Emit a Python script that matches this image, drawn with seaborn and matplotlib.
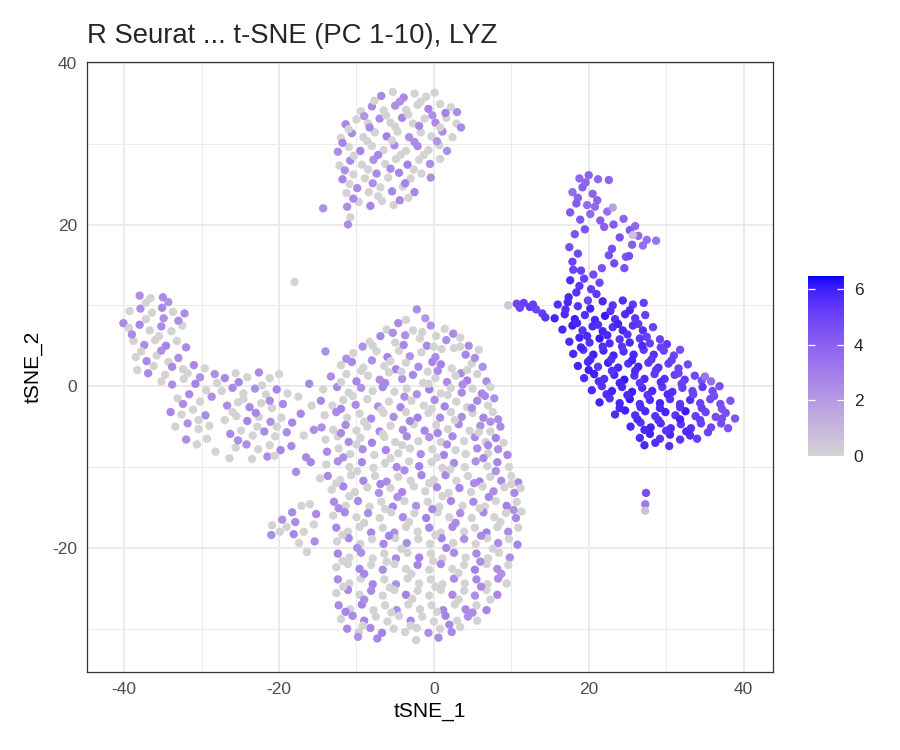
import numpy as np
import pandas as pd
import seaborn as sns
import matplotlib.pyplot as plt
from matplotlib.colors import ListedColormap, Normalize
from matplotlib.cm import ScalarMappable

# (tSNE_1, tSNE_2, LYZ), cluster by cluster
cluster_top = [
    (-6.8,35.9,2.6), (-5.3,36.4,0), (-3.9,35.7,2.7), (-2.5,36.2,0), (-1.0,35.8,0), (0.1,36.3,0),
    (-9.4,34.0,0), (-8.0,34.6,2.6), (-6.5,34.1,0), (-5.0,34.7,2.4), (-3.6,34.2,0), (-2.1,34.8,0), (-0.7,34.3,2.8), (0.8,34.9,0), (2.2,34.5,0), (3.0,33.9,2.5),
    (-11.4,32.4,2.7), (-10.0,33.0,0), (-8.5,32.5,0), (-7.0,33.1,2.5), (-5.6,32.6,0), (-4.1,33.2,2.8), (-2.7,32.5,0), (-1.2,33.1,0), (0.2,32.6,2.6), (1.6,33.2,0), (2.9,32.5,0), (3.5,32.0,2.7),
    (-12.0,30.7,0), (-10.6,31.3,2.6), (-9.1,30.8,0), (-7.6,31.4,0), (-6.1,30.9,2.9), (-4.7,31.5,0), (-3.2,30.8,2.4), (-1.7,31.4,0), (-0.3,30.9,0), (1.1,31.5,2.6), (2.4,30.8,0),
    (-12.4,29.0,2.5), (-11.0,29.6,0), (-9.5,29.1,2.8), (-8.0,29.7,0), (-6.5,29.2,0), (-5.1,29.8,2.6), (-3.6,29.1,0), (-2.1,29.7,2.7), (-0.7,29.2,0), (0.7,29.8,0), (1.7,29.1,2.4),
    (-12.2,27.3,0), (-10.8,27.9,2.6), (-9.3,27.4,0), (-7.8,28.0,2.4), (-6.3,27.5,0), (-4.9,28.1,0), (-3.4,27.4,2.9), (-1.9,28.0,0), (-0.5,27.5,2.5), (0.8,28.1,0),
    (-11.8,25.6,2.7), (-10.4,26.2,0), (-8.9,25.7,0), (-7.4,26.3,2.6), (-5.9,25.8,0), (-4.5,26.4,2.8), (-3.0,25.7,0), (-1.6,26.3,0), (-0.4,25.8,2.4),
    (-11.3,23.9,0), (-9.9,24.5,2.5), (-8.4,24.0,0), (-6.9,24.6,0), (-5.4,24.1,2.7), (-4.0,24.7,0), (-2.5,24.0,2.6),
    (-11.2,22.2,2.4), (-9.7,22.8,0), (-8.2,22.3,2.8), (-6.7,22.9,0), (-5.2,22.4,0), (-4.4,23.0,2.6),
    (-10.8,20.9,0), (-11.1,20.0,2.5), (-14.3,22.0,2.3),
    (-7.7,35.3,0), (-4.4,35.2,2.3), (-1.7,35.2,0), (1.5,33.8,2.9), (-9.0,33.4,2.2), (-6.2,33.5,0), (-3.3,33.6,0), (-0.2,33.5,2.4),
    (-11.0,31.8,0), (-8.3,32.0,2.6), (-5.0,32.1,0), (-1.9,32.2,2.7), (0.8,32.0,0), (-11.8,30.1,2.8), (-8.6,30.3,0), (-5.4,30.4,0),
    (-2.5,30.2,2.5), (0.4,30.3,2.2), (-10.3,28.5,0), (-7.2,28.6,2.7), (-4.3,28.6,0), (-1.3,28.6,0), (-11.5,26.7,2.4), (-8.5,26.8,0),
    (-5.6,26.9,2.6), (-2.6,26.8,0), (-10.9,25.0,0), (-7.9,25.1,2.5), (-3.7,25.1,2.8), (-10.4,23.2,2.6), (-7.2,23.5,0), (-3.3,23.3,0),
]

cluster_left = [
    (-38.0,11.2,2.5), (-36.6,10.9,0), (-35.0,11.0,2.6), (-34.3,10.4,2.3),
    (-40.1,7.8,2.6), (-39.3,9.3,0), (-37.9,9.6,2.4), (-36.4,9.1,0), (-35.1,9.7,2.7), (-33.7,9.2,0), (-32.2,9.0,2.5),
    (-39.4,7.2,0), (-38.0,7.6,2.7), (-36.7,6.9,0), (-35.2,7.4,2.6), (-33.9,6.8,0), (-32.5,7.5,0),
    (-38.8,5.6,0), (-37.4,5.1,2.5), (-36.0,5.7,0), (-34.6,5.0,2.8), (-33.2,5.6,0), (-32.0,4.8,2.6),
    (-38.5,3.6,0), (-37.1,3.1,2.6), (-35.8,3.8,0), (-34.3,3.0,0), (-33.0,3.5,2.4),
    (-38.3,2.0,0), (-36.9,1.6,2.6), (-32.4,2.1,0), (-31.0,2.6,2.7), (-29.6,2.2,0), (-28.3,1.5,2.4),
    (-35.2,0.6,0), (-33.8,0.2,2.5), (-32.3,0.9,0), (-30.8,0.3,2.8), (-29.4,-0.5,0), (-28.0,0.4,0),
    (-33.1,-1.5,0), (-31.6,-1.0,2.6), (-30.2,-1.9,0), (-28.7,-1.3,2.4),
    (-34.0,-3.2,2.7), (-32.6,-3.5,0), (-31.1,-2.9,0), (-29.5,-3.6,2.6),
    (-33.4,-5.0,0), (-31.8,-4.6,2.4), (-30.4,-5.3,0), (-29.0,-4.9,0),
    (-32.0,-6.6,2.5), (-30.6,-7.2,0), (-29.3,-6.5,0), (-28.2,-8.1,0),
    (-27.0,1.0,2.6), (-25.6,1.6,0), (-24.1,1.1,0), (-22.6,1.7,2.6), (-21.2,1.0,0), (-20.0,1.5,0),
    (-27.4,-0.6,0), (-26.0,-0.2,2.7), (-24.6,-0.9,0), (-23.1,-0.3,2.4), (-21.7,-1.0,0), (-20.3,-0.4,2.8), (-18.9,-0.9,0),
    (-26.7,-2.4,2.5), (-25.3,-2.0,0), (-23.8,-2.6,2.6), (-22.3,-2.1,0), (-20.9,-2.7,0), (-19.5,-2.2,2.6),
    (-27.0,-4.2,0), (-25.5,-3.7,0), (-24.1,-4.3,2.8), (-22.6,-3.8,0), (-21.1,-4.4,2.4), (-19.7,-3.9,0), (-18.3,-4.5,2.7),
    (-26.3,-5.9,2.6), (-24.9,-5.5,0), (-23.4,-6.1,0), (-21.9,-5.6,2.6), (-20.5,-6.2,0), (-19.0,-5.7,2.5),
    (-25.6,-7.6,0), (-24.2,-7.2,2.4), (-22.7,-7.8,0), (-21.2,-7.3,0), (-19.8,-7.9,2.8), (-18.4,-7.4,2.6),
    (-26.4,-8.9,0), (-23.5,-9.0,0), (-21.5,-8.7,2.5), (-16.5,-8.8,2.6),
    (-17.5,-1.3,0), (-16.1,0.3,2.6), (-15.8,-2.4,0), (-17.2,-3.4,2.7), (-15.5,-5.4,2.4), (-16.8,-6.1,0),
    (-15.9,-9.4,2.7), (-17.8,-10.6,2.5), (-14.7,-11.4,0), (-18.0,12.9,0),
    (-37.2,10.3,0), (-34.9,8.4,2.3), (-37.2,8.3,0), (-39.0,6.4,2.6), (-35.5,6.2,0), (-33.0,8.1,2.5), (-37.8,4.3,0), (-35.2,4.4,2.4),
    (-36.2,2.5,0), (-33.8,2.4,2.6), (-34.7,1.4,0), (-31.8,1.6,0), (-30.2,1.1,2.3), (-32.4,-2.2,2.5), (-30.4,-4.2,0), (-25.2,0.5,2.7),
    (-22.2,0.1,0), (-24.6,-1.6,0), (-21.2,-1.8,2.5), (-26.0,-3.2,0), (-23.0,-3.3,2.7), (-20.3,-5.0,0), (-22.8,-5.0,0), (-25.3,-6.7,2.4),
    (-20.6,-8.6,0),
]

cluster_small = [
    (-20.9,-17.2,0), (-19.6,-16.5,2.4), (-18.3,-15.6,2.6), (-17.1,-14.8,0), (-16.0,-14.6,0), (-15.2,-15.8,2.6),
    (-15.5,-17.1,0), (-16.8,-18.0,0), (-18.1,-18.3,2.7), (-19.9,-18.0,0), (-21.0,-18.4,2.5), (-17.4,-19.4,0),
    (-16.4,-20.5,0), (-17.9,-16.8,2.6), (-19.0,-17.4,0), (-15.4,-19.2,2.4),
]

cluster_main = [
    (-2.2,9.5,2.5), (-1.1,8.4,2.1), (-3.6,8.2,0),
    (-6.1,7.0,0), (-4.6,7.8,2.6), (-2.7,6.9,0), (-0.4,7.5,2.3), (1.4,7.1,0), (-3.7,6.3,2.4), (0.3,6.2,0),
    (-8.3,5.5,0), (-6.9,6.2,2.7), (-5.0,5.4,0), (-1.8,5.9,0), (-0.9,5.0,2.6), (1.6,5.7,2.4), (3.4,6.0,0), (4.5,5.0,2.5), (2.6,4.7,0),
    (-10.4,4.1,0), (-9.2,4.9,2.3), (-7.4,4.3,0), (-6.0,3.6,2.9), (-4.5,4.4,0), (-3.1,3.7,2.3), (-1.6,4.2,0), (0.2,3.6,2.6), (1.0,4.6,0), (4.1,3.9,2.7), (5.8,4.5,0), (-14.0,4.3,2.4),
    (-12.0,2.6,0), (-10.6,3.0,2.6), (-9.1,2.3,0), (-8.0,3.2,2.4), (-6.4,2.5,0), (-4.9,2.1,2.8), (-3.6,2.9,0), (-2.0,2.4,2.5), (-0.8,1.8,0), (0.9,2.7,2.9), (2.3,2.2,0), (3.5,1.6,2.6), (4.9,2.8,0), (6.3,2.4,2.4),
    (-13.3,1.2,2.5), (-11.3,1.5,0), (-10.0,0.6,2.7), (-8.5,1.3,0), (-7.0,0.8,2.4), (-5.8,1.7,0), (-4.1,0.9,2.3), (-2.7,1.4,2.7), (-1.4,0.4,0), (0.2,1.0,0), (1.7,0.5,2.6), (2.8,1.3,0), (4.3,0.7,3.0), (5.6,1.5,0), (6.8,0.6,2.5),
    (-14.3,-0.4,0), (-12.5,-0.1,2.6), (-11.0,-0.8,0), (-9.4,-0.2,2.3), (-7.9,-0.6,0), (-6.6,-0.1,2.8), (-5.1,-0.7,0), (-3.5,-0.3,0), (-2.2,-1.0,2.4), (-0.6,-0.4,2.9), (0.9,-0.9,0), (2.2,-0.2,0), (3.6,-0.8,2.6), (5.0,-0.3,0), (6.2,-0.9,2.7), (7.3,-0.1,0),
    (-14.6,-1.8,2.6), (-13.1,-2.4,0), (-11.7,-1.7,0), (-10.1,-2.3,2.5), (-8.6,-1.6,0), (-7.2,-2.5,2.3), (-5.8,-1.9,0), (-4.3,-2.6,2.7), (-2.9,-1.8,0), (-1.3,-2.4,0), (0.1,-1.7,2.5), (1.4,-2.5,2.8), (2.9,-1.9,0), (4.3,-2.6,0), (5.6,-1.8,2.6), (7.0,-2.4,0), (7.8,-1.5,2.4),
    (-14.1,-3.6,0), (-12.6,-3.2,2.7), (-11.2,-3.9,0), (-9.6,-3.4,0), (-8.1,-4.0,2.6), (-6.5,-3.3,0), (-5.2,-3.8,2.4), (-3.6,-3.2,0), (-2.1,-3.9,2.9), (-0.7,-3.3,0), (0.8,-3.9,2.6), (2.2,-3.2,0), (3.6,-3.8,2.4), (5.0,-3.3,0), (6.4,-3.9,2.8), (7.6,-3.2,0), (8.3,-4.1,2.5),
    (-14.5,-5.1,2.4), (-13.0,-5.4,0), (-11.4,-4.8,2.6), (-10.0,-5.5,0), (-8.6,-5.0,0), (-7.0,-5.6,2.7), (-5.6,-4.9,0), (-4.0,-5.4,2.5), (-2.6,-4.7,0), (-1.2,-5.5,2.8), (0.3,-4.8,0), (1.8,-5.3,0), (3.2,-4.7,2.6), (4.6,-5.5,0), (6.0,-4.9,2.4), (7.3,-5.6,0), (8.6,-5.0,2.6),
    (-14.0,-6.6,0), (-12.4,-6.2,0), (-11.0,-6.9,2.5), (-9.5,-6.4,0), (-8.0,-7.0,2.9), (-6.4,-6.3,0), (-5.0,-6.9,0), (-3.5,-6.2,2.6), (-2.0,-6.8,0), (-0.6,-6.3,2.3), (0.9,-6.9,0), (2.4,-6.2,2.7), (3.9,-6.8,0), (5.3,-6.3,2.5), (6.7,-6.9,0), (8.0,-6.4,2.9), (9.0,-7.0,0),
    (-13.8,-8.1,2.6), (-12.3,-7.7,0), (-10.8,-8.4,0), (-9.2,-7.8,2.4), (-7.7,-8.5,0), (-6.2,-7.9,2.7), (-4.6,-8.3,0), (-3.1,-7.7,0), (-1.7,-8.4,2.5), (-0.2,-7.8,0), (1.3,-8.5,2.8), (2.8,-7.9,0), (4.1,-8.4,0), (5.6,-7.7,2.6), (7.0,-8.3,0), (8.3,-7.8,2.4), (9.5,-8.5,2.7),
    (-13.9,-9.7,0), (-12.4,-9.3,2.5), (-10.9,-10.0,0), (-9.3,-9.4,2.8), (-7.8,-10.1,0), (-6.3,-9.5,0), (-4.8,-10.0,2.6), (-3.2,-9.3,0), (-1.9,-9.9,2.9), (-0.3,-9.4,0), (1.1,-10.1,0), (2.6,-9.5,2.6), (4.0,-10.0,0), (5.4,-9.3,2.4), (6.9,-9.9,0), (8.2,-9.4,2.8), (9.7,-10.0,0),
    (-13.7,-11.1,2.6), (-12.1,-11.6,0), (-10.7,-11.0,0), (-9.1,-11.7,2.7), (-7.6,-11.1,0), (-6.1,-11.8,2.5), (-4.6,-11.2,0), (-3.0,-11.7,0), (-1.6,-11.0,2.8), (0.0,-11.6,0), (1.5,-11.0,2.6), (2.9,-11.7,0), (4.4,-11.1,0), (5.9,-11.8,2.9), (7.3,-11.2,0), (8.7,-11.7,2.5), (10.0,-11.1,0), (10.9,-11.9,2.6),
    (-13.2,-12.8,0), (-11.7,-12.4,2.8), (-10.2,-13.1,0), (-8.6,-12.5,0), (-7.1,-13.2,2.4), (-5.6,-12.6,0), (-4.1,-13.1,2.7), (-2.6,-12.4,0), (-1.1,-13.0,0), (0.4,-12.5,2.6), (1.9,-13.2,0), (3.3,-12.6,2.8), (4.8,-13.1,0), (6.3,-12.4,0), (7.7,-13.0,2.5), (9.1,-12.5,0), (10.4,-13.2,2.7), (11.2,-12.6,0),
    (-12.9,-14.3,2.5), (-11.4,-14.8,0), (-9.8,-14.2,2.6), (-8.3,-14.9,0), (-6.8,-14.3,0), (-5.3,-14.9,2.8), (-3.8,-14.2,0), (-2.3,-14.8,2.4), (-0.8,-14.3,0), (0.7,-14.9,0), (2.2,-14.2,2.7), (3.7,-14.8,0), (5.1,-14.3,2.6), (6.6,-14.9,0), (8.0,-14.2,0), (9.4,-14.8,2.9), (10.7,-14.3,0),
    (-13.0,-16.0,0), (-11.5,-15.6,2.7), (-10.0,-16.2,0), (-8.5,-15.7,2.5), (-7.0,-16.3,0), (-5.5,-15.6,0), (-4.0,-16.2,2.6), (-2.5,-15.7,0), (-1.0,-16.3,2.9), (0.5,-15.6,0), (2.0,-16.2,0), (3.4,-15.7,2.5), (4.9,-16.3,0), (6.4,-15.6,2.7), (7.8,-16.2,0), (9.3,-15.7,0), (10.6,-16.3,2.6), (11.3,-15.5,0),
    (-12.6,-17.5,2.6), (-11.1,-18.0,0), (-9.6,-17.4,0), (-8.1,-18.1,2.8), (-6.6,-17.5,0), (-5.1,-18.1,2.4), (-3.6,-17.4,0), (-2.1,-18.0,0), (-0.6,-17.5,2.7), (0.9,-18.1,0), (2.4,-17.4,2.6), (3.9,-18.0,0), (5.3,-17.5,0), (6.8,-18.1,2.9), (8.2,-17.4,0), (9.6,-18.0,2.5), (10.9,-17.5,0),
    (-12.5,-19.2,0), (-11.0,-18.8,2.6), (-9.5,-19.5,0), (-8.0,-18.9,0), (-6.5,-19.5,2.7), (-5.0,-18.8,0), (-3.5,-19.4,2.5), (-2.0,-18.9,0), (-0.5,-19.5,0), (1.0,-18.8,2.8), (2.5,-19.4,0), (3.9,-18.9,2.4), (5.4,-19.5,0), (6.9,-18.8,0), (8.3,-19.4,2.6), (9.7,-18.9,0), (10.8,-19.6,2.8),
    (-12.4,-20.7,2.8), (-10.9,-21.2,0), (-9.4,-20.6,2.4), (-7.9,-21.3,0), (-6.4,-20.7,0), (-4.9,-21.3,2.6), (-3.4,-20.6,0), (-1.9,-21.2,2.9), (-0.4,-20.7,0), (1.1,-21.3,0), (2.6,-20.6,2.6), (4.1,-21.2,0), (5.5,-20.7,2.7), (7.0,-21.3,0), (8.4,-20.6,0), (9.8,-21.2,2.5),
    (-12.6,-22.4,0), (-11.1,-22.0,0), (-9.6,-22.6,2.7), (-8.1,-22.1,0), (-6.6,-22.7,2.5), (-5.1,-22.0,0), (-3.6,-22.6,0), (-2.1,-22.1,2.8), (-0.6,-22.7,0), (0.9,-22.0,2.6), (2.4,-22.6,0), (3.9,-22.1,0), (5.3,-22.7,2.9), (6.8,-22.0,0), (8.2,-22.6,2.4), (9.6,-22.1,0),
    (-12.4,-23.9,2.6), (-10.9,-24.4,0), (-9.4,-23.8,0), (-7.9,-24.5,2.8), (-6.4,-23.9,0), (-4.9,-24.5,2.4), (-3.4,-23.8,0), (-1.9,-24.4,0), (-0.4,-23.9,0), (1.1,-24.5,0), (2.6,-23.8,2.6), (4.0,-24.4,0), (5.5,-23.9,2.7), (6.9,-24.5,0), (8.3,-23.8,2.5), (9.4,-24.4,0),
    (-12.6,-25.6,0), (-11.1,-25.2,2.7), (-9.6,-25.8,0), (-8.1,-25.3,2.5), (-6.6,-25.9,0), (-5.1,-25.2,0), (-3.6,-25.8,2.9), (-2.1,-25.3,0), (-0.6,-25.9,0), (0.9,-25.2,0), (2.4,-25.8,2.6), (3.9,-25.3,0), (5.3,-25.9,2.4), (6.8,-25.2,0), (8.2,-25.8,2.7),
    (-12.3,-27.1,2.6), (-10.8,-27.6,0), (-9.3,-27.0,2.9), (-7.8,-27.7,0), (-6.3,-27.1,0), (-4.8,-27.7,2.5), (-3.3,-27.0,0), (-1.8,-27.6,0), (-0.3,-27.1,0), (1.2,-27.7,2.7), (2.7,-27.0,0), (4.1,-27.6,2.6), (5.5,-27.1,0), (6.8,-27.7,2.8),
    (-12.0,-28.8,0), (-10.5,-28.4,2.6), (-9.0,-29.0,2.8), (-7.5,-28.5,0), (-6.0,-29.1,0), (-4.5,-28.4,0), (-3.0,-29.0,2.6), (-1.5,-28.5,0), (0.0,-29.1,0), (1.5,-28.4,2.8), (3.0,-29.0,0), (4.4,-28.5,2.4), (5.6,-29.0,0),
    (-11.2,-30.0,2.7), (-9.7,-30.4,0), (-8.2,-29.9,2.6), (-6.7,-30.5,2.9), (-5.2,-30.0,0), (-3.7,-30.4,0), (-2.2,-29.9,0), (-0.7,-30.5,2.5), (0.8,-30.0,0), (2.3,-30.4,2.7), (3.4,-29.8,0),
    (-7.3,-31.2,2.8), (-2.3,-31.4,0), (0.6,-31.1,2.6), (-9.8,-31.0,2.4),
    # filled in between the rows above
    (-5.3,6.6,2.4), (-1.5,6.7,0), (2.5,6.5,2.6), (-7.9,5.0,0), (-3.9,5.1,2.7), (0.0,4.9,0), (3.4,4.9,0),
    (-11.3,3.4,2.5), (-5.6,3.1,0), (-0.2,3.0,2.8), (5.3,3.5,2.4), (-9.4,1.9,0), (-4.2,1.8,0), (0.5,1.9,2.6), (4.3,2.0,0),
    (-12.0,0.5,0), (-6.3,0.4,2.7), (-0.7,0.3,0), (3.7,0.2,2.5), (-10.5,-1.2,0), (-3.8,-1.3,2.3), (1.8,-1.1,0), (6.6,-1.2,2.6),
    (-12.0,-2.8,2.8), (-6.8,-2.9,0), (-0.3,-2.8,0), (4.9,-2.7,2.5), (-9.0,-4.4,0), (-3.1,-4.3,2.7), (2.7,-4.2,0), (7.3,-4.4,2.4),
    (-12.0,-5.8,2.6), (-6.6,-5.9,0), (0.5,-5.8,2.8), (5.8,-5.7,0), (-10.0,-7.2,0), (-4.1,-7.3,0), (1.7,-7.2,2.5), (7.0,-7.3,2.6),
    (-11.7,-8.8,2.4), (-5.6,-8.9,0), (0.4,-8.8,0), (6.4,-8.9,2.7), (-9.9,-10.5,0), (-3.8,-10.4,2.6), (2.1,-10.3,0), (8.0,-10.5,2.3),
    (-12.6,-12.0,0), (-6.9,-12.1,2.8), (-0.6,-12.0,0), (5.2,-12.0,2.5), (10.0,-12.1,0), (-10.9,-13.6,0), (-4.7,-13.7,2.4), (1.1,-13.6,0), (7.1,-13.7,2.7),
    (-12.3,-15.1,2.6), (-6.3,-15.2,0), (-0.2,-15.2,2.7), (5.9,-15.1,0), (10.3,-15.3,2.4), (-9.0,-16.9,0), (-3.2,-16.8,0), (2.8,-16.9,2.5), (8.6,-16.8,0),
    (-11.8,-18.4,0), (-5.8,-18.5,2.8), (0.2,-18.4,0), (6.1,-18.5,2.6), (-9.9,-20.0,2.4), (-4.2,-20.1,0), (1.6,-20.0,2.7), (7.6,-20.1,0),
    (-11.8,-21.6,0), (-6.1,-21.7,0), (-0.1,-21.6,0), (6.0,-21.7,2.5), (-9.0,-23.2,2.7), (-2.9,-23.2,0), (3.2,-23.1,0), (8.7,-23.2,2.4),
    (-11.7,-24.8,0), (-5.7,-24.9,0), (0.2,-24.8,0), (6.1,-24.8,2.6), (-9.0,-26.4,2.5), (-2.8,-26.3,0), (3.2,-26.4,0), (7.3,-26.4,0),
    (-11.4,-27.9,2.8), (-5.5,-28.0,0), (0.4,-27.9,0), (5.0,-28.0,2.5), (-9.2,-29.6,0), (-3.0,-29.6,0), (2.0,-29.5,2.7),
]

cluster_right = [
    # upper arm
    (18.8,25.7,3.8), (20.0,26.1,4.0), (21.2,25.6,3.7), (22.6,25.5,3.9),
    (17.9,24.0,3.6), (19.2,24.6,4.1), (20.5,23.8,3.9), (18.4,22.6,4.2), (19.8,22.4,3.7), (21.1,23.0,4.0), (17.6,21.5,4.3),
    (18.9,20.6,4.4), (20.2,21.3,3.8), (21.5,20.5,4.1), (22.4,21.6,3.6), (19.5,19.4,4.5), (23.1,22.1,1.8),
    (23.2,20.0,4.2), (24.5,20.7,3.9), (25.3,19.3,4.3), (26.4,18.6,3.7), (27.5,18.1,3.5), (28.7,18.0,3.4),
    (24.0,18.4,4.5), (25.6,17.5,4.1), (23.0,17.0,4.6), (24.8,16.0,4.4), (25.7,18.7,0.6),
    (23.3,15.2,4.8), (24.6,14.6,4.5), (25.2,16.1,4.7),
    (19.6,25.2,3.9), (18.6,23.3,4.0), (20.8,22.2,3.8), (22.0,19.7,4.1), (26.0,19.8,3.8), (27.0,17.4,3.6),
    # stem
    (17.5,17.2,4.6), (18.6,16.4,4.8), (17.9,15.4,5.0), (19.0,14.3,5.1), (20.6,13.8,4.7), (21.7,14.6,4.5),
    (17.6,13.1,5.6), (18.8,12.4,5.4), (20.3,12.0,5.2), (21.4,12.8,4.9), (17.4,11.0,5.8), (19.9,10.6,5.0), (21.0,11.4,5.3),
    (18.2,18.8,4.5), (18.0,14.4,5.0), (19.4,13.3,5.2), (18.4,11.6,5.5), (22.6,16.2,4.6),
    # streak to the left
    (9.6,10.0,0.5), (10.7,10.2,4.9), (11.6,10.3,5.1), (12.4,9.8,5.3), (13.2,9.5,5.0), (14.0,9.0,5.2),
    (11.1,9.7,5.0), (12.8,10.1,5.2), (14.4,8.5,5.4),
    # main body
    (16.0,10.1,5.6), (17.3,10.4,5.8), (18.6,9.9,5.5), (21.8,10.5,5.7), (23.1,10.0,5.4), (24.4,10.6,5.6), (25.7,10.1,5.3), (27.1,10.3,5.2),
    (15.6,8.4,5.9), (16.9,8.9,5.7), (18.2,8.3,6.0), (19.5,8.8,5.6), (20.8,8.2,5.8), (22.1,8.7,6.1), (23.4,8.3,5.5), (24.7,8.9,5.7), (26.0,8.4,5.4), (27.3,8.8,5.2),
    (16.6,7.0,5.8), (17.9,7.5,6.0), (19.2,6.9,5.5), (20.5,7.4,5.7), (21.8,6.8,5.9), (23.1,7.3,5.6), (24.4,6.9,5.8), (25.7,7.5,5.4), (27.0,6.9,5.5), (28.3,7.3,5.1),
    (17.5,5.5,5.7), (18.8,6.0,5.9), (20.1,5.4,5.6), (21.4,5.9,6.1), (22.7,5.3,5.7), (24.0,5.8,5.5), (25.3,5.4,5.8), (26.6,5.9,5.4), (27.9,5.3,5.2), (29.2,5.8,5.0), (30.1,5.2,5.3),
    (18.0,4.0,5.8), (19.3,4.5,5.5), (20.6,3.9,6.0), (21.9,4.4,5.7), (23.2,3.8,5.9), (24.5,4.3,5.6), (25.8,3.9,5.8), (27.1,4.5,5.3), (28.4,3.9,5.5), (29.7,4.4,5.1), (31.0,3.8,4.9), (31.8,4.5,4.7),
    (18.6,2.5,5.9), (19.9,3.0,5.7), (21.2,2.4,5.4), (22.5,2.9,6.0), (23.8,2.3,5.8), (25.1,2.8,5.6), (26.4,2.4,5.9), (27.7,2.9,5.4), (29.0,2.3,5.6), (30.3,2.8,5.2), (31.6,2.2,5.0), (32.8,2.7,4.8),
    (19.4,1.0,5.7), (20.7,1.5,6.0), (22.0,0.9,5.6), (23.3,1.4,5.8), (24.6,0.8,6.1), (25.9,1.3,5.5), (27.2,0.9,5.7), (28.5,1.5,5.3), (29.8,0.9,5.5), (31.1,1.4,5.1), (32.4,0.8,5.3), (33.7,1.3,4.9), (34.6,0.7,4.7),
    (20.4,-0.5,5.8), (21.7,0.0,5.5), (23.0,-0.6,5.9), (24.3,-0.1,5.7), (25.6,-0.7,6.0), (26.9,-0.2,5.6), (28.2,-0.6,5.8), (29.5,-0.1,5.4), (30.8,-0.7,5.6), (32.1,-0.2,5.2), (33.4,-0.6,5.0), (34.7,-0.1,5.3), (36.0,-0.6,4.8), (36.9,0.0,4.6),
    (21.4,-2.0,5.9), (22.7,-1.5,5.6), (24.0,-2.1,5.8), (25.3,-1.6,6.1), (26.6,-2.2,5.5), (27.9,-1.7,5.7), (29.2,-2.1,5.9), (30.5,-1.6,5.5), (31.8,-2.2,5.3), (33.1,-1.7,5.6), (34.4,-2.1,5.1), (35.7,-1.6,4.9), (37.0,-2.2,4.7), (38.3,-1.8,4.5),
    (23.4,-3.5,5.7), (24.7,-3.0,6.0), (26.0,-3.6,5.6), (27.3,-3.1,5.8), (28.6,-3.7,5.5), (29.9,-3.2,5.9), (31.2,-3.6,5.4), (32.5,-3.1,6.1), (33.8,-3.7,5.2), (35.1,-3.2,5.0), (36.4,-3.8,4.8), (37.7,-3.3,4.6), (38.9,-4.0,4.4),
    (25.4,-5.0,5.8), (26.7,-4.5,5.5), (28.0,-5.1,5.9), (29.3,-4.6,5.6), (30.6,-5.2,5.7), (31.9,-4.7,5.4), (33.2,-5.2,5.6), (34.5,-4.6,5.1), (35.8,-5.1,4.9), (37.1,-4.6,4.7), (38.0,-5.2,4.5),
    (26.6,-6.4,5.7), (27.9,-5.9,5.9), (29.2,-6.5,5.5), (30.5,-6.0,5.8), (31.8,-6.6,5.4), (33.1,-6.1,5.6), (34.0,-6.5,5.2),
    (27.2,-7.3,5.8), (28.6,-7.0,5.6), (30.4,-7.4,5.5),
    (17.0,9.5,5.6), (20.2,9.6,5.9), (22.8,9.3,5.5), (25.3,9.4,5.7), (18.5,7.8,5.8), (21.2,7.6,5.6), (23.8,7.7,5.9), (26.4,7.7,5.3),
    (19.8,6.2,5.7), (22.4,6.3,5.8), (25.0,6.4,5.5), (27.5,6.1,5.1), (19.0,4.8,5.9), (21.8,4.9,5.6), (24.3,4.9,5.4), (26.9,5.0,5.7),
    (29.3,4.8,5.0), (20.2,3.3,5.8), (22.9,3.3,5.6), (25.6,3.2,5.9), (28.1,3.3,5.3), (30.7,3.2,5.1), (20.0,2.0,6.0), (23.0,1.9,5.5),
    (26.0,1.9,5.7), (28.7,2.0,5.4), (31.6,1.6,5.0), (21.3,0.6,5.6), (24.0,0.4,5.9), (26.6,0.4,5.4), (29.3,0.5,5.6), (32.0,0.3,5.1),
    (22.3,-1.0,5.7), (25.0,-1.1,5.8), (27.6,-1.1,5.5), (30.2,-1.0,5.7), (33.5,-1.0,5.0), (36.2,-1.2,4.7), (24.0,-2.7,5.9), (26.7,-2.6,5.6),
    (29.2,-2.7,5.8), (31.8,-2.6,5.5), (34.6,-2.7,5.1), (37.2,-2.8,4.6), (26.3,-4.1,5.7), (29.0,-4.2,5.6), (31.8,-4.1,5.9), (34.4,-4.2,5.1),
    (37.2,-4.0,4.7), (27.2,-5.4,5.8), (30.0,-5.5,5.5), (32.6,-5.6,5.7), (35.4,-5.7,5.0),
    (35.0,1.2,3.4), (35.8,0.6,3.6),
    (27.4,-13.2,4.6), (27.3,-14.6,3.2), (27.3,-15.4,0.6),
]

lyz_max = 6.47
x_ticks = [-40, -20, 0, 20, 40]
y_ticks = [-20, 0, 20, 40]
bar_ticks = [0, 2, 4, 6]

M_XYZ = np.array([[0.4124, 0.3576, 0.1805], [0.2126, 0.7152, 0.0722], [0.0193, 0.1192, 0.9505]])
WHITE = np.array([0.95047, 1.0, 1.08883])


def srgb_to_lab(rgb):
    rgb = np.asarray(rgb, float)
    lin = np.where(rgb <= 0.04045, rgb / 12.92, ((rgb + 0.055) / 1.055) ** 2.4)
    xyz = lin @ M_XYZ.T / WHITE
    f = np.where(xyz > 0.008856, np.cbrt(xyz), 7.787 * xyz + 16 / 116)
    return np.stack([116 * f[..., 1] - 16, 500 * (f[..., 0] - f[..., 1]), 200 * (f[..., 1] - f[..., 2])], axis=-1)


def lab_to_srgb(lab):
    fy = (lab[:, 0] + 16) / 116
    f = np.stack([fy + lab[:, 1] / 500, fy, fy - lab[:, 2] / 200], axis=1)
    xyz = np.where(f ** 3 > 0.008856, f ** 3, (f - 16 / 116) / 7.787) * WHITE
    lin = np.clip(xyz @ np.linalg.inv(M_XYZ).T, 0, None)
    rgb = np.where(lin <= 0.0031308, 12.92 * lin, 1.055 * lin ** (1 / 2.4) - 0.055)
    return np.clip(rgb, 0, 1)


# lightgrey -> blue, blended in Lab like ggplot2 does
lab_lo = srgb_to_lab([211 / 255, 211 / 255, 211 / 255])
lab_hi = srgb_to_lab([0.0, 0.0, 1.0])
t = np.linspace(0, 1, 256)[:, None]
cmap = ListedColormap(lab_to_srgb(lab_lo + t * (lab_hi - lab_lo)))

rows = []
for pts in [cluster_top, cluster_left, cluster_small, cluster_main, cluster_right]:
    rows.extend(pts)
df = pd.DataFrame(rows, columns=['tSNE_1', 'tSNE_2', 'LYZ'])

sns.set_style("white")
plt.rcParams['font.family'] = ['Liberation Sans', 'DejaVu Sans']
plt.rcParams['axes.unicode_minus'] = False

fig = plt.figure(figsize=(9, 7.5), dpi=100)
ax = fig.add_axes([87 / 900, 1 - 672 / 750, 686 / 900, 610 / 750])

sns.scatterplot(data=df, x='tSNE_1', y='tSNE_2', hue='LYZ', palette=cmap, hue_norm=(0, lyz_max),
                s=36, linewidth=0, legend=False, ax=ax, zorder=3)

ax.set_xlim(-44.8, 43.8)
ax.set_ylim(-35.35, 40.1)
ax.set_xticks(x_ticks)
ax.set_yticks(y_ticks)
ax.set_xticks([-30, -10, 10, 30], minor=True)
ax.set_yticks([-30, -10, 10, 30], minor=True)
ax.grid(which='major', color='#EBEBEB', linewidth=1.4)
ax.grid(which='minor', color='#EBEBEB', linewidth=0.7)
ax.set_axisbelow(True)
for sp in ax.spines.values():
    sp.set_color('#333333')
    sp.set_linewidth(0.9)
ax.tick_params(which='major', direction='out', length=3.6, width=0.8, color='#333333',
               labelsize=12.5, labelcolor='#4D4D4D', pad=3.5)
ax.tick_params(which='minor', length=0)

ax.set_xlabel('tSNE_1', fontsize=15, color='black', labelpad=4)
ax.set_ylabel('tSNE_2', fontsize=15, color='black', labelpad=6.5)
ax.set_title('R Seurat ... t-SNE (PC 1-10), LYZ', loc='left', fontsize=19.8, pad=13.5)

cax = fig.add_axes([808 / 900, 1 - 456 / 750, 36 / 900, 180 / 750])
cb = fig.colorbar(ScalarMappable(norm=Normalize(0, lyz_max), cmap=cmap), cax=cax)
cb.outline.set_visible(False)
cb.set_ticks(bar_ticks)
cax.tick_params(length=0, labelsize=12.5, pad=7)
tr = cax.get_yaxis_transform()
cax.hlines(bar_ticks, 0, 0.2, colors='white', linewidth=0.9, transform=tr)
cax.hlines(bar_ticks, 0.8, 1, colors='white', linewidth=0.9, transform=tr)

fig.savefig('out.png', dpi=100)
